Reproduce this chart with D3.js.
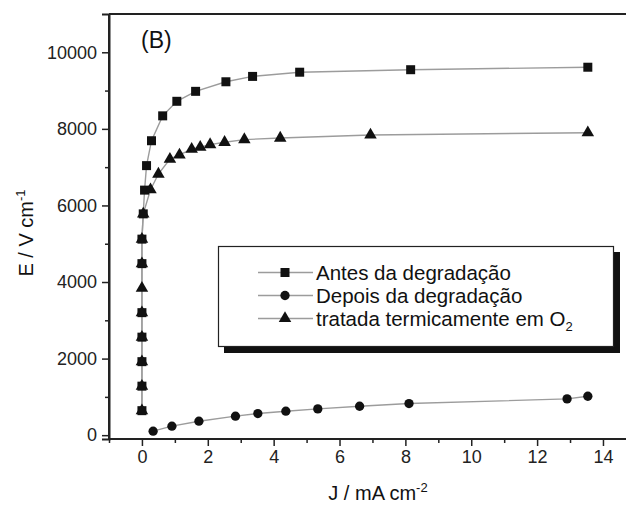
<!DOCTYPE html>
<html>
<head>
<meta charset="utf-8">
<script src="https://cdn.jsdelivr.net/npm/d3@7"></script>
<style>
  body { margin: 0; background: #fff; }
  svg { display: block; font-family: "Liberation Sans", Arial, sans-serif; }
</style>
</head>
<body>
<div id="chart"></div>
<script>
// Antes da degradação (squares)
const antesJ = [0, 0, 0, 0, 0, 0, 0, 0.04, 0.08, 0.14, 0.29, 0.63, 1.06, 1.63, 2.55, 3.36, 4.79, 8.16, 13.54];
const antesE = [640, 1280, 1920, 2560, 3200, 4480, 5120, 5780, 6400, 7040, 7690, 8340, 8720, 8980, 9230, 9370, 9480, 9545, 9610];

// Depois da degradação (circles)
const depoisJ = [0.34, 0.91, 1.73, 2.84, 3.52, 4.37, 5.34, 6.61, 8.11, 12.91, 13.54];
const depoisE = [104, 235, 365, 496, 565, 626, 686, 756, 826, 947, 1017];

// tratada termicamente em O2 (triangles)
const tratadaJ = [0, 0, 0, 0, 0, 0, 0, 0, 0.04, 0.26, 0.5, 0.85, 1.14, 1.51, 1.77, 2.07, 2.51, 3.11, 4.2, 6.94, 13.54];
const tratadaE = [640, 1280, 1920, 2560, 3200, 3840, 4480, 5120, 5780, 6410, 6820, 7210, 7320, 7470, 7520, 7590, 7650, 7720, 7760, 7840, 7900];

const xTicks = [0, 2, 4, 6, 8, 10, 12, 14];
const yTicks = [0, 2000, 4000, 6000, 8000, 10000];
const legendLabels = ["Antes da degradação", "Depois da degradação", "tratada termicamente em O"];

const width = 626, height = 507;
const svg = d3.select("#chart").append("svg").attr("width", width).attr("height", height);

const x = d3.scaleLinear().domain([-1, 15]).range([109, 635.9]);
const y = d3.scaleLinear().domain([-100, 11000]).range([439, 14]);

const series = [
  { J: antesJ, E: antesE, shape: d3.symbolSquare, size: 81 },
  { J: depoisJ, E: depoisE, shape: d3.symbolCircle, size: 68 },
  { J: tratadaJ, E: tratadaE, shape: d3.symbolTriangle, size: 68 },
];

// frame
const frame = svg.append("g").attr("stroke", "#222").attr("stroke-width", 2).attr("fill", "none");
frame.append("line").attr("x1", x(-1)).attr("x2", width + 5).attr("y1", y(11000)).attr("y2", y(11000));
frame.append("line").attr("x1", x(-1)).attr("x2", x(-1)).attr("y1", y(11000)).attr("y2", y(-100));

// axes
const xAxis = svg.append("g").attr("transform", `translate(0,${y(-100)})`)
  .call(d3.axisBottom(x).tickValues(xTicks).tickSize(7).tickPadding(4).tickFormat(d3.format("d")));
svg.append("g").attr("transform", `translate(0,${y(-100)})`)
  .call(d3.axisBottom(x).tickValues(d3.range(-1, 16, 2)).tickSize(4).tickFormat(""))
  .call(g => g.select(".domain").remove());
const yAxis = svg.append("g").attr("transform", `translate(${x(-1)},0)`)
  .call(d3.axisLeft(y).tickValues(yTicks).tickSize(7).tickPadding(5).tickFormat(d3.format("d")));
svg.append("g").attr("transform", `translate(${x(-1)},0)`)
  .call(d3.axisLeft(y).tickValues(d3.range(1000, 11000, 2000)).tickSize(4).tickFormat(""))
  .call(g => g.select(".domain").remove());

svg.selectAll(".domain").attr("stroke", "#222").attr("stroke-width", 2);
svg.selectAll(".tick line").attr("stroke", "#222").attr("stroke-width", 1.5);
svg.selectAll(".tick text").attr("fill", "#222").style("font-size", "18px")
  .style("font-family", '"Liberation Sans", Arial, sans-serif');
xAxis.select(".domain").attr("d", `M${x(-1)},0H${width + 5}`);

// lines and markers
const line = d3.line().x(d => x(d[0])).y(d => y(d[1]));
series.forEach(s => {
  const pts = s.J.map((j, i) => [j, s.E[i]]);
  svg.append("path").datum(pts).attr("d", line)
    .attr("fill", "none").attr("stroke", "#9c9c9c").attr("stroke-width", 1.4);
});
series.forEach(s => {
  const pts = s.J.map((j, i) => [j, s.E[i]]);
  svg.append("g").selectAll("path").data(pts).join("path")
    .attr("transform", d => `translate(${x(d[0])},${y(d[1])})`)
    .attr("d", d3.symbol().type(s.shape).size(s.size))
    .attr("fill", "#111");
});

// panel label
svg.append("text").attr("x", 141).attr("y", 48).text("(B)")
  .attr("fill", "#111").style("font-size", "23px");

// legend
const lg = svg.append("g");
lg.append("rect").attr("x", 224).attr("y", 252).attr("width", 396).attr("height", 101).attr("fill", "#111");
lg.append("rect").attr("x", 218.5).attr("y", 246.5).attr("width", 395).attr("height", 100)
  .attr("fill", "#fff").attr("stroke", "#222").attr("stroke-width", 1.2);
const rowY = [272.5, 295.5, 318.5];
series.forEach((s, i) => {
  lg.append("line").attr("x1", 258).attr("x2", 313).attr("y1", rowY[i]).attr("y2", rowY[i])
    .attr("stroke", "#9c9c9c").attr("stroke-width", 1.4);
  lg.append("path").attr("transform", `translate(285,${rowY[i]})`)
    .attr("d", d3.symbol().type(s.shape).size(s.size)).attr("fill", "#111");
  const t = lg.append("text").attr("x", 316).attr("y", rowY[i] + 7)
    .attr("fill", "#111").style("font-size", "20.5px").text(legendLabels[i]);
  if (i === 2) t.append("tspan").attr("dy", 5).style("font-size", "13px").text("2");
});

// axis titles
const xt = svg.append("text").attr("x", 378).attr("y", 500).attr("text-anchor", "middle")
  .attr("fill", "#111").style("font-size", "20px").text("J / mA cm");
xt.append("tspan").attr("dy", -8).style("font-size", "13px").text("-2");

const yt = svg.append("text").attr("transform", "translate(33,233) rotate(-90)").attr("text-anchor", "middle")
  .attr("fill", "#111").style("font-size", "20px").text("E / V cm");
yt.append("tspan").attr("dy", -8).style("font-size", "13px").text("-1");
</script>
</body>
</html>
